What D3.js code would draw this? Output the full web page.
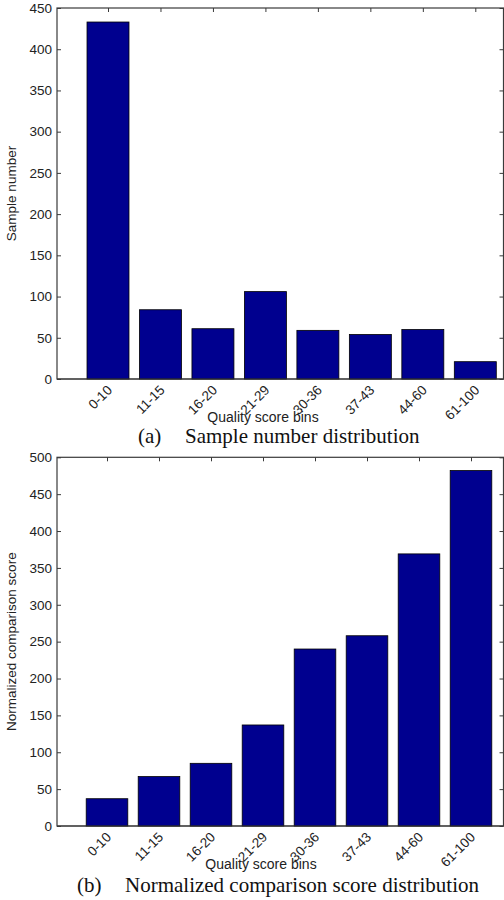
<!DOCTYPE html>
<html>
<head>
<meta charset="utf-8">
<script src="https://cdn.jsdelivr.net/npm/d3@7/dist/d3.min.js"></script>
<style>
  html, body { margin: 0; padding: 0; background: #fff; }
  svg { display: block; }
  .tick text { font-family: "Liberation Sans", Arial, sans-serif; font-size: 13.5px; fill: #222; }
</style>
</head>
<body>
<svg id="fig" width="504" height="900"></svg>
<script>
// Quality score bins shared by both panels
const categories = ["0-10", "11-15", "16-20", "21-29", "30-36", "37-43", "44-60", "61-100"];
// Panel (a): number of samples per bin
const sampleCounts = [433, 84, 61, 106, 59, 54, 60, 21];
// Panel (b): normalized comparison score per bin
const comparisonScores = [37, 67, 85, 137, 240, 258, 369, 482];
// y-axis tick values
const sampleTicks = [0, 50, 100, 150, 200, 250, 300, 350, 400, 450];
const scoreTicks = [0, 50, 100, 150, 200, 250, 300, 350, 400, 450, 500];

const svg = d3.select("#fig");
const AXIS = "#3a3a3a";
const BAR = "#00008f";

function drawPanel(p) {
  const g = svg.append("g");
  const idx = categories.map((_, i) => i + 1);

  // category positions: centres of bins 1..8
  const x = d3.scaleLinear().domain([1, 8]).range([p.c1, p.c8]);
  const y = d3.scaleLinear().domain([0, p.yMax]).range([p.bottom, p.top]);
  const bw = 0.8 * (x(2) - x(1));

  // left axis with inward ticks and labels
  const left = g.append("g").attr("transform", `translate(${p.left},0)`)
    .call(d3.axisLeft(y).tickValues(p.ticks).tickSize(-4).tickPadding(5));
  // right axis, ticks only
  const right = g.append("g").attr("transform", `translate(${p.right},0)`)
    .call(d3.axisRight(y).tickValues(p.ticks).tickSize(-4).tickFormat(""));
  // top axis, ticks only
  const top = g.append("g").attr("transform", `translate(0,${p.top})`)
    .call(d3.axisTop(x).tickValues(idx).tickSize(-4).tickFormat(""));
  // bottom axis with rotated category labels
  const bottom = g.append("g").attr("transform", `translate(0,${p.bottom})`)
    .call(d3.axisBottom(x).tickValues(idx).tickSize(-4).tickFormat(""));

  [left, right, top, bottom].forEach(a => {
    a.select(".domain").remove();
    a.selectAll(".tick line").attr("stroke", AXIS);
  });

  // axes box
  g.append("rect")
    .attr("x", p.left).attr("y", p.top)
    .attr("width", p.right - p.left).attr("height", p.bottom - p.top)
    .attr("fill", "none").attr("stroke", AXIS).attr("stroke-width", 1.2);

  // bars
  g.append("g").selectAll("rect").data(p.values).join("rect")
    .attr("x", (d, i) => x(i + 1) - bw / 2)
    .attr("y", d => y(d))
    .attr("width", bw)
    .attr("height", d => y(0) - y(d))
    .attr("fill", BAR)
    .attr("stroke", "#000")
    .attr("stroke-width", 0.8);

  // x axis line redrawn above bars
  g.append("line")
    .attr("x1", p.left).attr("x2", p.right)
    .attr("y1", p.bottom).attr("y2", p.bottom)
    .attr("stroke", AXIS).attr("stroke-width", 1.2);

  // rotated category labels
  g.append("g").selectAll("text").data(categories).join("text")
    .attr("transform", (d, i) => `translate(${x(i + 1) + 5},${p.bottom + 12}) rotate(-45)`)
    .attr("text-anchor", "end")
    .attr("font-family", "Liberation Sans, Arial, sans-serif")
    .attr("font-size", 13.5)
    .attr("fill", "#222")
    .text(d => d);

  // x axis title
  g.append("text")
    .attr("x", p.xTitleX).attr("y", p.bottom + 43)
    .attr("text-anchor", "middle")
    .attr("font-family", "Liberation Sans, Arial, sans-serif")
    .attr("font-size", 14)
    .attr("fill", "#222")
    .text("Quality score bins");

  // y axis title
  g.append("text")
    .attr("transform", `translate(16,${(p.top + p.bottom) / 2}) rotate(-90)`)
    .attr("text-anchor", "middle")
    .attr("font-family", "Liberation Sans, Arial, sans-serif")
    .attr("font-size", 13.5)
    .attr("fill", "#222")
    .text(p.yTitle);

  // caption
  g.append("text")
    .attr("x", p.capX1).attr("y", p.capY)
    .attr("font-family", "Liberation Serif, Times New Roman, serif")
    .attr("font-size", 21).attr("fill", "#111")
    .text(p.capTag);
  g.append("text")
    .attr("x", p.capX2).attr("y", p.capY)
    .attr("font-family", "Liberation Serif, Times New Roman, serif")
    .attr("font-size", 21).attr("fill", "#111")
    .text(p.caption);
}

drawPanel({
  values: sampleCounts, ticks: sampleTicks, yMax: 450,
  top: 8, bottom: 379, left: 57, right: 503.5, c1: 108, c8: 475.3,
  xTitleX: 263, yTitle: "Sample number",
  capTag: "(a)", caption: "Sample number distribution",
  capX1: 138, capX2: 185, capY: 443
});

drawPanel({
  values: comparisonScores, ticks: scoreTicks, yMax: 500,
  top: 457.3, bottom: 826, left: 57, right: 503.5, c1: 107, c8: 471,
  xTitleX: 261, yTitle: "Normalized comparison score",
  capTag: "(b)", caption: "Normalized comparison score distribution",
  capX1: 77, capX2: 125, capY: 892
});
</script>
</body>
</html>
